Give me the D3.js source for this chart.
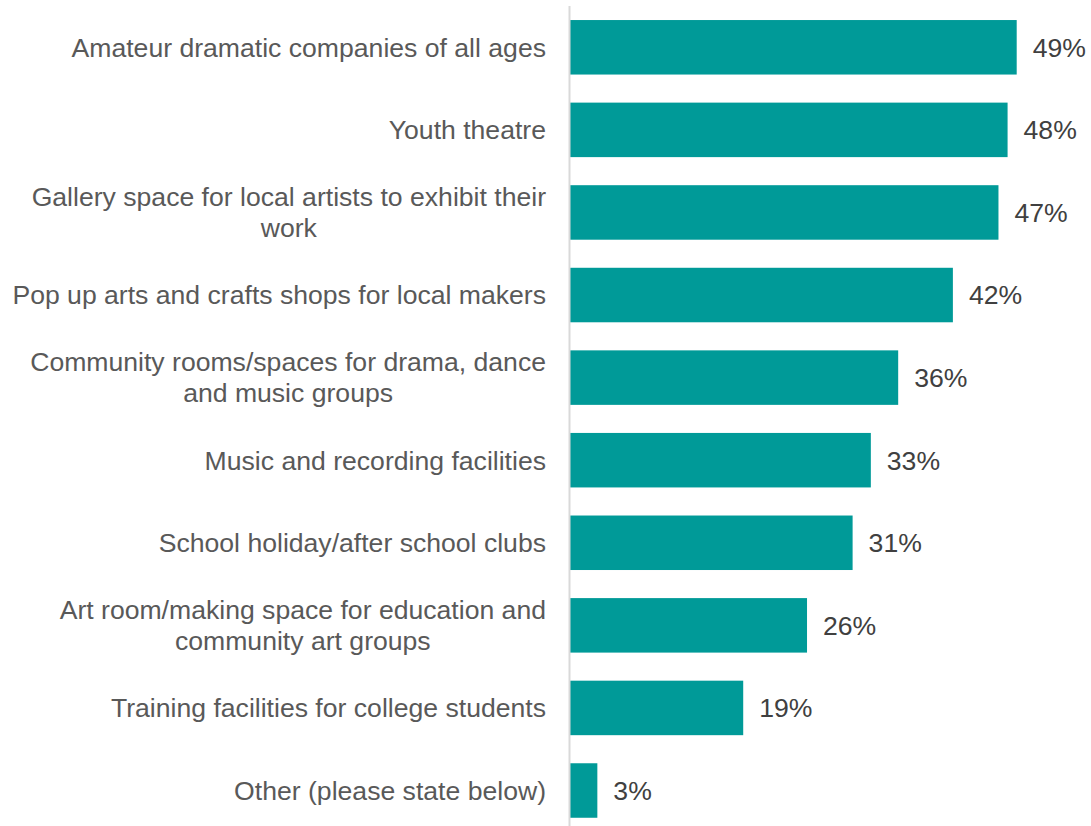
<!DOCTYPE html>
<html>
<head>
<meta charset="utf-8">
<script src="https://cdn.jsdelivr.net/npm/d3@7"></script>
<style>
  html, body { margin: 0; padding: 0; background: #ffffff; }
  svg { display: block; }
</style>
</head>
<body>
<svg id="chart" width="1091" height="826"></svg>
<script>
const categories = [
  "Amateur dramatic companies of all ages",
  "Youth theatre",
  "Gallery space for local artists to exhibit their\nwork",
  "Pop up arts and crafts shops for local makers",
  "Community rooms/spaces for drama, dance\nand music groups",
  "Music and recording facilities",
  "School holiday/after school clubs",
  "Art room/making space for education and\ncommunity art groups",
  "Training facilities for college students",
  "Other (please state below)"
];
const values = [49, 48, 47, 42, 36, 33, 31, 26, 19, 3];
const valueLabels = ["49%", "48%", "47%", "42%", "36%", "33%", "31%", "26%", "19%", "3%"];

const svg = d3.select("#chart");
const axisX = 570;
const x = d3.scaleLinear().domain([0, 49]).range([axisX, 1016.7]);
const y = d3.scaleBand().domain(categories).range([6, 831.8]).paddingInner(0.34).paddingOuter(0.17);

const font = "'Liberation Sans', Arial, sans-serif";

svg.selectAll("rect.bar")
  .data(values)
  .enter().append("rect")
  .attr("class", "bar")
  .attr("x", x(0))
  .attr("y", (d, i) => y(categories[i]))
  .attr("width", d => x(d) - x(0))
  .attr("height", y.bandwidth())
  .attr("fill", "#009a98");

// axis line
svg.append("line")
  .attr("x1", axisX - 0.5).attr("x2", axisX - 0.5)
  .attr("y1", 6).attr("y2", 826)
  .attr("stroke", "#d9d9d9").attr("stroke-width", 2);

// category labels: block right-aligned, lines centered within block
const lineH = 31;
const labelRight = axisX - 24;
categories.forEach((c, i) => {
  const lines = c.split("\n");
  const cy = y(c) + y.bandwidth() / 2;
  const t = svg.append("text")
    .attr("font-family", font)
    .attr("font-size", "26.6px")
    .attr("fill", "#595959");
  const spans = lines.map((ln, j) => t.append("tspan")
      .attr("y", cy + (j - (lines.length - 1) / 2) * lineH)
      .attr("dy", "0.35em")
      .text(ln));
  const widths = spans.map(s => s.node().getComputedTextLength());
  const maxW = d3.max(widths);
  const center = labelRight - maxW / 2;
  spans.forEach(s => s.attr("x", center).attr("text-anchor", "middle"));
  t.attr("text-anchor", "middle");
});

// value labels
svg.selectAll("text.val")
  .data(values)
  .enter().append("text")
  .attr("class", "val")
  .attr("x", d => x(d) + 16)
  .attr("y", (d, i) => y(categories[i]) + y.bandwidth() / 2)
  .attr("dy", "0.35em")
  .attr("font-family", font)
  .attr("font-size", "26.6px")
  .attr("fill", "#404040")
  .text((d, i) => valueLabels[i]);
</script>
</body>
</html>
